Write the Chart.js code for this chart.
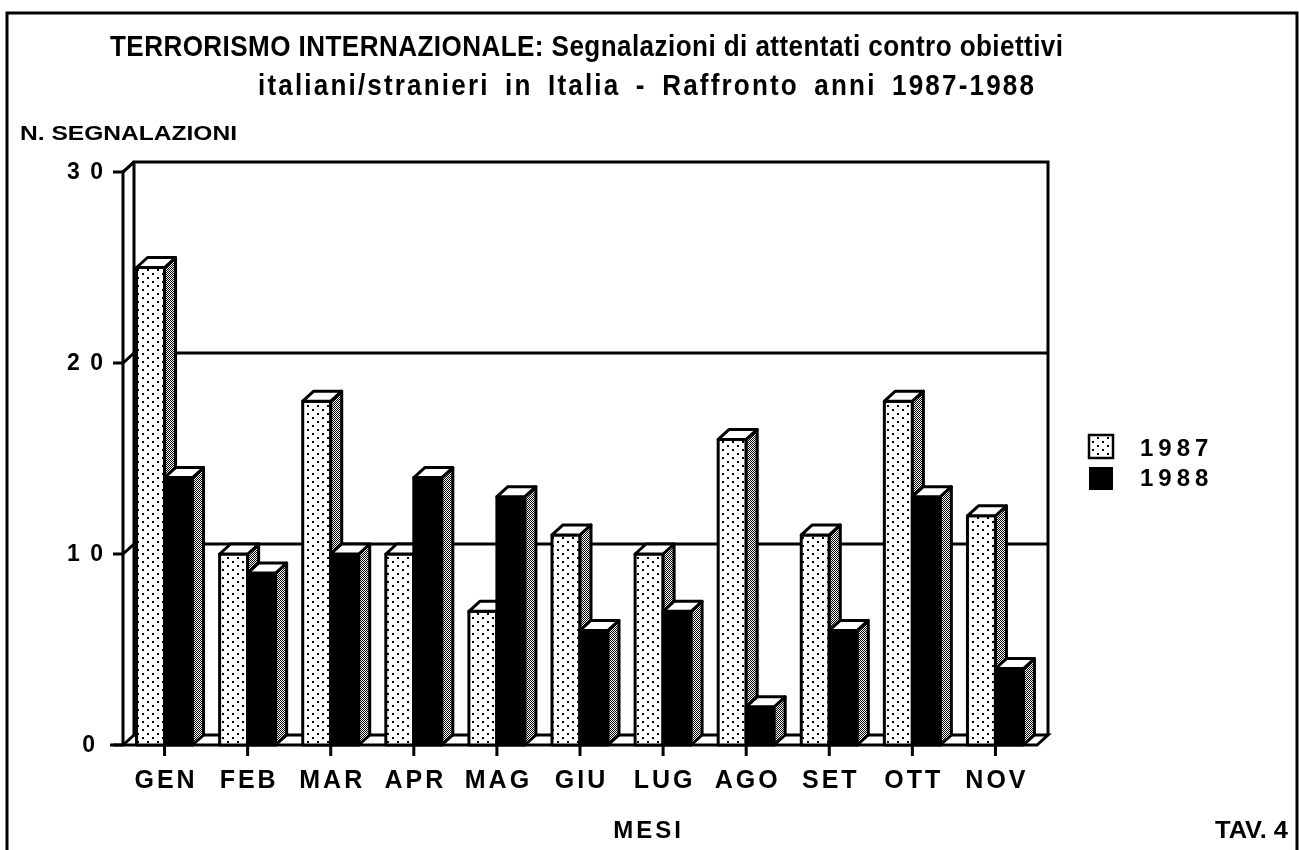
<!DOCTYPE html>
<html><head><meta charset="utf-8">
<script src="https://cdn.jsdelivr.net/npm/chart.js@4/dist/chart.umd.min.js"></script>
<style>html,body{margin:0;padding:0;background:#fff}canvas{display:block}</style>
</head><body>
<canvas id="c" width="1299" height="850"></canvas>
<script>
const months = ['GEN','FEB','MAR','APR','MAG','GIU','LUG','AGO','SET','OTT','NOV'];
const values1987 = [25,10,18,10,7,11,10,16,11,18,12];
const values1988 = [14,9,10,14,13,6,7,2,6,13,4];
const seriesNames = ['1987','1988'];
const yTicks = [0,10,20,30];
const yTickLabels = ['0','1 0','2 0','3 0'];
const titleLines = ['TERRORISMO INTERNAZIONALE: Segnalazioni di attentati contro obiettivi','italiani/stranieri in Italia - Raffronto anni 1987-1988'];
const yAxisTitle = 'N. SEGNALAZIONI';
const xAxisTitle = 'MESI';
const tableLabel = 'TAV. 4';

const DX = 11, DY = 10;
const FONT = '"Liberation Sans", Arial, Helvetica, sans-serif';

function makeTile(w, h, draw) {
  const c = document.createElement('canvas'); c.width = w; c.height = h;
  const x = c.getContext('2d'); x.fillStyle = '#fff'; x.fillRect(0, 0, w, h);
  x.fillStyle = '#000'; draw(x); return c;
}
const dotTile = makeTile(10, 8, x => { x.fillRect(2, 1, 2, 2); x.fillRect(7, 5, 2, 2); });
const meshTile = makeTile(2, 2, x => { x.fillRect(0, 0, 1, 1); x.fillRect(1, 1, 1, 1); });

function txt(ctx, s, x, y, size, o = {}) {
  ctx.save();
  ctx.font = `bold ${size}px ${FONT}`;
  const ls = o.ls || 0;
  ctx.textBaseline = 'middle';
  ctx.textAlign = 'left';
  ctx.fillStyle = '#000';
  ctx.letterSpacing = ls + 'px';
  if (o.sx && o.width) {
    ctx.wordSpacing = '0px';
    const w0 = ctx.measureText(s).width - ls;
    const gaps = s.split(' ').length - 1;
    ctx.wordSpacing = Math.max(0, (o.width / o.sx - w0) / gaps) + 'px';
  }
  let w = ctx.measureText(s).width - ls;
  const sx = o.sx ? o.sx : (o.width ? o.width / w : 1);
  const ax = o.align || 'left';
  const x0 = ax === 'left' ? x : ax === 'center' ? x - w * sx / 2 : x - w * sx;
  ctx.translate(x0, y); ctx.scale(sx, 1);
  ctx.fillText(s, 0, 0);
  ctx.restore();
  return sx;
}
function line(ctx, pts, close) {
  ctx.beginPath(); ctx.moveTo(pts[0][0], pts[0][1]);
  for (let i = 1; i < pts.length; i++) ctx.lineTo(pts[i][0], pts[i][1]);
  if (close) ctx.closePath();
}

const threeD = {
  id: 'threeD',
  beforeDraw(chart) {
    const ctx = chart.ctx;
    ctx.save();
    ctx.fillStyle = '#fff'; ctx.fillRect(0, 0, chart.width, chart.height);
    ctx.strokeStyle = '#000'; ctx.lineWidth = 3;
    line(ctx, [[7, 852], [7, 13], [1297, 13], [1297, 852]]); ctx.stroke();
    const s1 = txt(ctx, titleLines[0], 110, 48, 30, { width: 953, ls: 0.5 });
    txt(ctx, titleLines[1], 258, 87, 30, { width: 776, sx: s1, ls: 2.5 });
    txt(ctx, yAxisTitle, 20, 134, 21, { width: 217 });
    txt(ctx, xAxisTitle, 647, 831, 24, { ls: 3, align: 'center' });
    txt(ctx, tableLabel, 1288, 831, 24, { width: 73, align: 'right' });
    ctx.restore();
  },
  beforeDatasetsDraw(chart) {
    const { ctx, chartArea: a, scales: { x, y } } = chart;
    const L = a.left, R = a.right, B = y.getPixelForValue(0), T = y.getPixelForValue(30);
    ctx.save();
    ctx.strokeStyle = '#000'; ctx.lineWidth = 3; ctx.lineJoin = 'miter';
    yTicks.forEach(v => {
      if (v === 0 || v === 30) return;
      const py = y.getPixelForValue(v);
      line(ctx, [[L + DX, py - DY], [R + DX, py - DY]]); ctx.stroke();
    });
    line(ctx, [[L + DX, B - DY], [L + DX, T - DY], [R + DX, T - DY], [R + DX, B - DY]]); ctx.stroke();
    line(ctx, [[L - 13, B], [R, B], [R + DX, B - DY], [L + DX, B - DY]]); ctx.stroke();
    line(ctx, [[L, B], [L, T], [L + DX, T - DY]]); ctx.stroke();
    yTicks.forEach((v, i) => {
      const py = y.getPixelForValue(v);
      line(ctx, [[L - 10, py], [L, py], [L + DX, py - DY]]); ctx.stroke();
      txt(ctx, yTickLabels[i], v === 0 ? 95 : 103, py + 1, 23, { ls: 2, align: 'right' });
    });
    months.forEach((m, i) => {
      const px = x.getPixelForTick(i);
      line(ctx, [[px, B], [px, B + 11]]); ctx.stroke();
      txt(ctx, m, px, 781, 25, { ls: 3, align: 'center' });
    });
    ctx.restore();
  },
  afterDatasetsDraw(chart) {
    const ctx = chart.ctx;
    const dotPat = ctx.createPattern(dotTile, 'repeat');
    const meshPat = ctx.createPattern(meshTile, 'repeat');
    ctx.save();
    ctx.strokeStyle = '#000'; ctx.lineWidth = 3; ctx.lineJoin = 'round';
    months.forEach((m, i) => {
      [0, 1].forEach(d => {
        const el = chart.getDatasetMeta(d).data[i];
        const p = el.getProps(['x', 'y', 'base', 'width'], true);
        const l = p.x - p.width / 2, r = p.x + p.width / 2, t = p.y, b = p.base;
        line(ctx, [[l, b], [l, t], [r, t], [r, b]], true);
        ctx.fillStyle = d === 0 ? dotPat : '#000'; ctx.fill(); ctx.stroke();
        line(ctx, [[r, b], [r, t], [r + DX, t - DY], [r + DX, b - DY]], true);
        ctx.fillStyle = meshPat; ctx.fill(); ctx.stroke();
        line(ctx, [[l, t], [l + DX, t - DY], [r + DX, t - DY], [r, t]], true);
        ctx.fillStyle = '#fff'; ctx.fill(); ctx.stroke();
      });
    });
    ctx.restore();
  },
  afterDraw(chart) {
    const ctx = chart.ctx;
    const dotPat = ctx.createPattern(dotTile, 'repeat');
    ctx.save();
    ctx.strokeStyle = '#000'; ctx.lineWidth = 2.5;
    ctx.fillStyle = dotPat; ctx.fillRect(1089, 435, 24, 23); ctx.strokeRect(1089, 435, 24, 23);
    ctx.fillStyle = '#000'; ctx.fillRect(1089, 467, 24, 23);
    txt(ctx, seriesNames[0], 1140, 449, 24, { ls: 5 });
    txt(ctx, seriesNames[1], 1140, 479, 24, { ls: 5 });
    ctx.restore();
  }
};

new Chart(document.getElementById('c'), {
  type: 'bar',
  data: {
    labels: months,
    datasets: [
      { label: seriesNames[0], data: values1987, backgroundColor: 'rgba(0,0,0,0)', borderWidth: 0 },
      { label: seriesNames[1], data: values1988, backgroundColor: 'rgba(0,0,0,0)', borderWidth: 0 }
    ]
  },
  options: {
    responsive: false, devicePixelRatio: 1, animation: false, events: [],
    layout: { padding: { left: 123, right: 262, top: 172, bottom: 105 } },
    datasets: { bar: { categoryPercentage: 0.674, barPercentage: 1 } },
    plugins: { legend: { display: false }, title: { display: false }, tooltip: { enabled: false } },
    scales: { x: { display: false, offset: true }, y: { display: false, min: 0, max: 30 } }
  },
  plugins: [threeD]
});
</script>
</body></html>
